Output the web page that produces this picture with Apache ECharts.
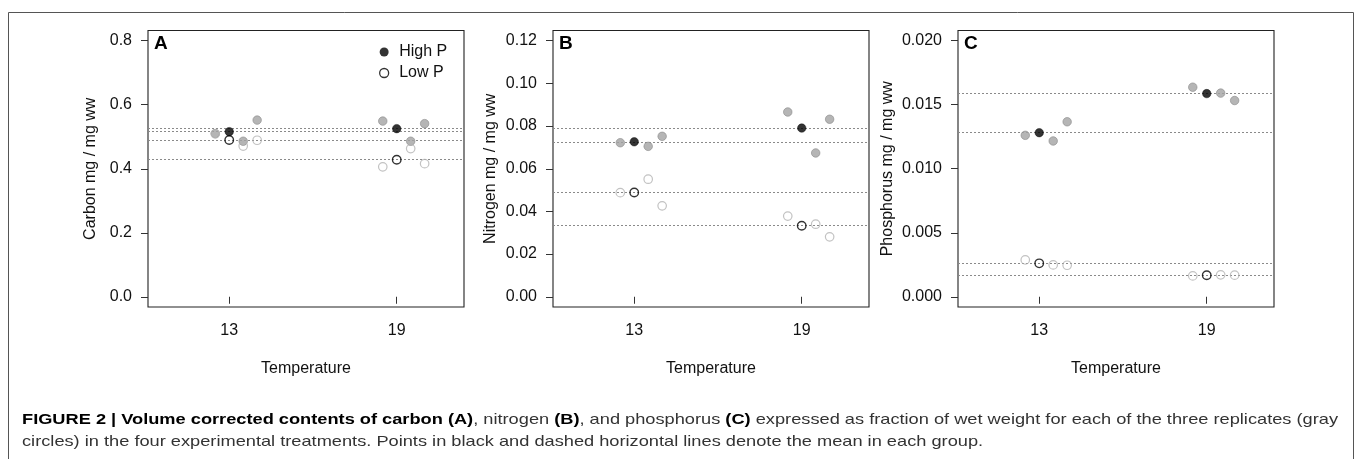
<!DOCTYPE html>
<html>
<head>
<meta charset="utf-8">
<script src="https://cdn.jsdelivr.net/npm/echarts@6/dist/echarts.min.js"></script>
<style>
html,body{margin:0;padding:0;background:#fff;}
#chart{width:1357px;height:459px;}
</style>
</head>
<body>
<div id="chart"></div>
<script>
// ---------- data ----------
const temps = [13, 19];
const replicateOffsets = [-0.5, 0.5, 1.0];

const carbonHigh = [[0.510, 0.486, 0.552], [0.549, 0.486, 0.541]];
const carbonLow  = [[0.509, 0.471, 0.489], [0.406, 0.463, 0.416]];
const nitrogenHigh = [[0.0722, 0.0705, 0.0752], [0.0866, 0.0674, 0.0832]];
const nitrogenLow  = [[0.0488, 0.0551, 0.0426], [0.0378, 0.0340, 0.0281]];
const phosphorusHigh = [[0.01261, 0.01217, 0.01367], [0.01637, 0.01591, 0.01533]];
const phosphorusLow  = [[0.00288, 0.00249, 0.00246], [0.00163, 0.00171, 0.00169]];

const carbonTicks = [0, 0.2, 0.4, 0.6, 0.8];
const nitrogenTicks = [0, 0.02, 0.04, 0.06, 0.08, 0.10, 0.12];
const phosphorusTicks = [0, 0.005, 0.010, 0.015, 0.020];

const panelLetters = ['A', 'B', 'C'];
const yTitles = ['Carbon mg / mg ww', 'Nitrogen mg / mg ww', 'Phosphorus mg / mg ww'];
const xTitle = 'Temperature';
const legendNames = ['High P', 'Low P'];

const captionBold1 = 'FIGURE 2 | Volume corrected contents of carbon (A)';
const captionN1 = ', nitrogen ';
const captionBold2 = '(B)';
const captionN2 = ', and phosphorus ';
const captionBold3 = '(C)';
const captionN3 = ' expressed as fraction of wet weight for each of the three replicates (gray';
const captionLine2 = 'circles) in the four experimental treatments. Points in black and dashed horizontal lines denote the mean in each group.';

// ---------- layout ----------
const FONT = "'Liberation Sans', Arial, Helvetica, sans-serif";
const gridLefts = [148, 553, 958];
const gridTop = 30.5, gridWidth = 316, gridHeight = 276.5;
const yNameGaps = [49, 54, 62];
const xMin = 10.09, xMax = 21.41;

const panels = [
  {high: carbonHigh, low: carbonLow, ticks: carbonTicks, digits: 1},
  {high: nitrogenHigh, low: nitrogenLow, ticks: nitrogenTicks, digits: 2},
  {high: phosphorusHigh, low: phosphorusLow, ticks: phosphorusTicks, digits: 3}
];

const mean = a => a.reduce((s, v) => s + v, 0) / a.length;
const TRANSPARENT = 'rgba(255,255,255,0)';

const grids = [], xAxes = [], yAxes = [], series = [], titles = [];

panels.forEach((p, i) => {
  grids.push({left: gridLefts[i], top: gridTop, width: gridWidth, height: gridHeight,
    show: true, borderColor: '#222', borderWidth: 1.1, backgroundColor: 'transparent'});
  const top = p.ticks[p.ticks.length - 1];
  const pad = top * 0.04;
  xAxes.push({
    type: 'value', gridIndex: i, min: xMin, max: xMax,
    axisLine: {show: false}, splitLine: {show: false},
    axisTick: {show: true, customValues: temps, length: 7, lineStyle: {color: '#333'}},
    axisLabel: {customValues: temps, margin: 16, fontSize: 16, color: '#111', fontFamily: FONT,
      formatter: v => String(Math.round(v))},
    name: xTitle, nameLocation: 'middle', nameGap: 54,
    nameTextStyle: {fontSize: 16, color: '#111', fontFamily: FONT}
  });
  yAxes.push({
    type: 'value', gridIndex: i, min: -pad, max: top + pad,
    axisLine: {show: false}, splitLine: {show: false},
    axisTick: {show: true, customValues: p.ticks, length: 7, lineStyle: {color: '#333'}},
    axisLabel: {customValues: p.ticks, margin: 16, fontSize: 16, color: '#111', fontFamily: FONT,
      formatter: v => Number(v).toFixed(p.digits)},
    name: yTitles[i], nameLocation: 'middle', nameGap: yNameGaps[i],
    nameTextStyle: {fontSize: 16, color: '#111', fontFamily: FONT}
  });

  const repData = groups => temps.flatMap((t, g) => groups[g].map((v, r) => [t + replicateOffsets[r], v]));
  const meanData = groups => temps.map((t, g) => [t, mean(groups[g])]);
  const meanLines = groups => ({
    silent: true, symbol: 'none', animation: false, z: 1, precision: 8,
    label: {show: false},
    lineStyle: {color: '#8a8a8a', width: 1, type: [2, 2]},
    emphasis: {disabled: true},
    data: temps.map((t, g) => ({yAxis: mean(groups[g])}))
  });

  series.push({
    name: 'High P replicates', type: 'scatter', xAxisIndex: i, yAxisIndex: i,
    symbol: 'circle', symbolSize: 8.5, z: 2,
    itemStyle: {color: '#a3a3a3', borderColor: '#8a8a8a', borderWidth: 0.8},
    data: repData(p.high), silent: true
  });
  series.push({
    name: 'Low P replicates', type: 'scatter', xAxisIndex: i, yAxisIndex: i,
    symbol: 'circle', symbolSize: 8.5, z: 2,
    itemStyle: {color: TRANSPARENT, borderColor: '#b3b3b3', borderWidth: 1.2},
    data: repData(p.low), silent: true
  });
  series.push({
    name: legendNames[0], type: 'scatter', xAxisIndex: i, yAxisIndex: i,
    symbol: 'circle', symbolSize: 8.5, z: 3,
    itemStyle: {color: '#000', borderColor: '#000', borderWidth: 0.5},
    data: meanData(p.high), markLine: meanLines(p.high), silent: true
  });
  series.push({
    name: legendNames[1], type: 'scatter', xAxisIndex: i, yAxisIndex: i,
    symbol: 'circle', symbolSize: 8.5, z: 3,
    itemStyle: {color: TRANSPARENT, borderColor: '#000', borderWidth: 1.4},
    data: meanData(p.low), markLine: meanLines(p.low), silent: true
  });

  titles.push({
    text: panelLetters[i], left: gridLefts[i] + 6, top: 34, padding: 0,
    textStyle: {fontSize: 19, fontWeight: 'bold', color: '#000', fontFamily: FONT}
  });
});

// ---------- caption fitting ----------
const CAP_SIZE = 15;
const cnv = document.createElement('canvas').getContext('2d');
function mw(text, bold) {
  cnv.font = (bold ? 'bold ' : '') + CAP_SIZE + 'px ' + FONT;
  return cnv.measureText(text).width;
}
const line1Width = mw(captionBold1, true) + mw(captionN1) + mw(captionBold2, true) +
  mw(captionN2) + mw(captionBold3, true) + mw(captionN3);
const capLeft = 22, capRight = 1338;
const capScale = (capRight - capLeft) / line1Width;

const richStyles = {
  b: {fontWeight: 'bold', fontSize: CAP_SIZE, fontFamily: FONT, fill: '#000'},
  n: {fontWeight: 'normal', fontSize: CAP_SIZE, fontFamily: FONT, fill: '#333'}
};

const chart = echarts.init(document.getElementById('chart'), null, {renderer: 'canvas'});
chart.setOption({
  animation: false,
  backgroundColor: '#fff',
  textStyle: {fontFamily: FONT},
  title: titles,
  legend: {
    orient: 'vertical', left: 379, top: 44, padding: 0,
    itemWidth: 20, itemHeight: 9, itemGap: 5, selectedMode: false,
    textStyle: {fontSize: 16, color: '#111', fontFamily: FONT},
    data: [
      {name: legendNames[0], icon: 'circle', itemStyle: {color: '#000', borderColor: '#000', borderWidth: 0}},
      {name: legendNames[1], icon: 'circle', itemStyle: {color: TRANSPARENT, borderColor: '#000', borderWidth: 1.3}}
    ]
  },
  grid: grids,
  xAxis: xAxes,
  yAxis: yAxes,
  series: series,
  graphic: [
    {type: 'rect', silent: true, z: -10,
      shape: {x: 8.5, y: 12.5, width: 1345, height: 480},
      style: {fill: 'none', stroke: '#555', lineWidth: 1}},
    {type: 'text', x: capLeft, y: 420, scaleX: capScale, silent: true,
      style: {
        text: '{b|' + captionBold1 + '}{n|' + captionN1 + '}{b|' + captionBold2 + '}{n|' +
              captionN2 + '}{b|' + captionBold3 + '}{n|' + captionN3 + '}',
        rich: richStyles, fontSize: CAP_SIZE, fontFamily: FONT, verticalAlign: 'middle', align: 'left'
      }},
    {type: 'text', x: capLeft, y: 442, scaleX: capScale, silent: true,
      style: {
        text: captionLine2, fontSize: CAP_SIZE, fontFamily: FONT, fill: '#333',
        verticalAlign: 'middle', align: 'left'
      }}
  ]
});
</script>
</body>
</html>
